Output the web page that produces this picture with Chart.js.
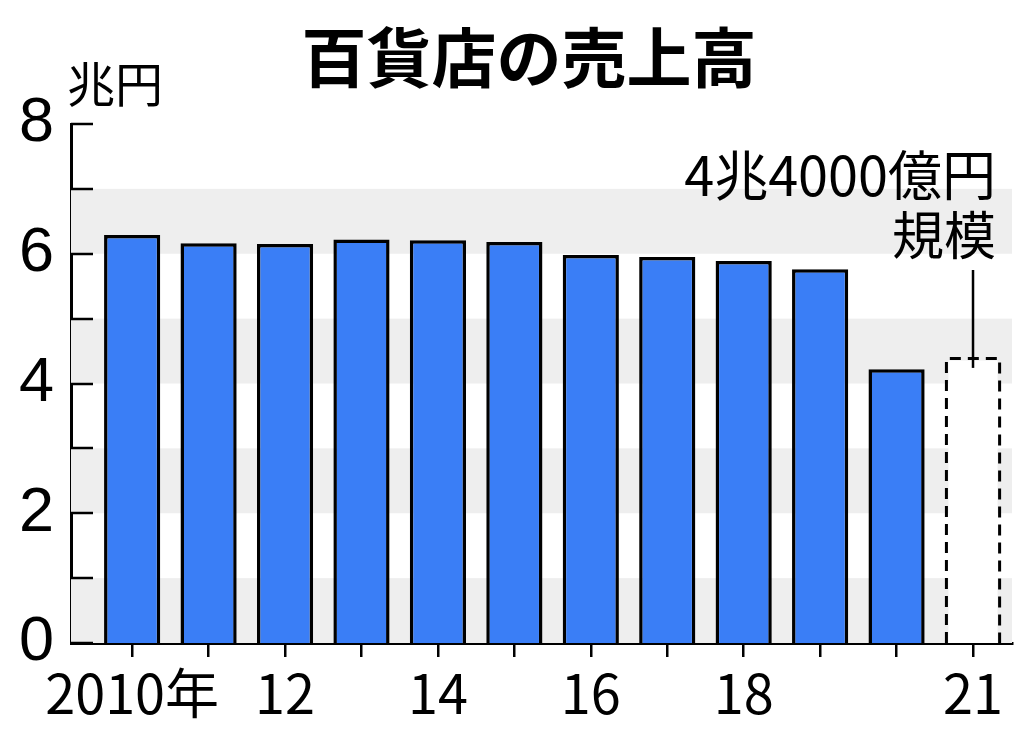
<!DOCTYPE html>
<html lang="ja">
<head>
    <meta charset="UTF-8">
    <title>百貨店の売上高</title>
    <script src="https://cdn.jsdelivr.net/npm/chart.js"></script>
    <style>
        html, body { margin: 0; padding: 0; background: #fff; }
        #wrap { width: 1024px; height: 740px; }
    </style>
</head>
<body>
    <div id="wrap"><canvas id="salesChart"></canvas></div>

    <script>
        // data (兆円)
        const years = [2010, 2011, 2012, 2013, 2014, 2015, 2016, 2017, 2018, 2019, 2020, 2021];
        const sales = [6.29, 6.16, 6.15, 6.22, 6.21, 6.18, 5.98, 5.95, 5.89, 5.76, 4.22, 4.41];
        const yearLabels = ['2010年', '', '12', '', '14', '', '16', '', '18', '', '', '21'];
        const yTicks = [0, 1, 2, 3, 4, 5, 6, 7, 8];
        const yLabels = ['0', '', '2', '', '4', '', '6', '', '8'];
        const bands = [[0, 1], [2, 3], [4, 5], [6, 7]];
        const titleText = '百貨店の売上高';
        const unitText = '兆円';
        const noteLines = ['4兆4000億円', '規模'];

        const CJK = '"Noto Sans CJK JP", sans-serif';
        const BLUE = '#3a7ef6';

        // grey bands, inner y ticks, dashed outlook bar, note and headings
        const decor = {
            id: 'decor',
            beforeDatasetsDraw(chart) {
                const { ctx, chartArea, scales } = chart;
                ctx.save();
                ctx.fillStyle = '#eeeeee';
                bands.forEach(b => {
                    const top = scales.y.getPixelForValue(b[1]);
                    const bot = scales.y.getPixelForValue(b[0]);
                    ctx.fillRect(chartArea.left, top, chartArea.right - chartArea.left, bot - top);
                });
                ctx.restore();
            },
            afterDatasetsDraw(chart) {
                const { ctx, chartArea, scales } = chart;
                ctx.save();
                // tick marks pointing into the plot
                ctx.strokeStyle = '#000';
                ctx.lineWidth = 2.5;
                yTicks.forEach(v => {
                    const py = Math.round(scales.y.getPixelForValue(v));
                    ctx.beginPath();
                    ctx.moveTo(chartArea.left, py);
                    ctx.lineTo(chartArea.left + 22, py);
                    ctx.stroke();
                });

                // 2021 outlook bar drawn dashed
                const bar = chart.getDatasetMeta(0).data[years.length - 1];
                const half = bar.width / 2;
                const l = bar.x - half + 1.5, r = bar.x + half - 1.5;
                ctx.setLineDash([11, 7]);
                ctx.lineWidth = 3;
                ctx.beginPath();
                ctx.moveTo(l, bar.base);
                ctx.lineTo(l, bar.y + 1.5);
                ctx.lineTo(r, bar.y + 1.5);
                ctx.lineTo(r, bar.base);
                ctx.stroke();
                ctx.setLineDash([]);

                // pointer line and note
                ctx.lineWidth = 2.5;
                ctx.beginPath();
                ctx.moveTo(bar.x, 270);
                ctx.lineTo(bar.x, bar.y + 11);
                ctx.stroke();

                ctx.fillStyle = '#000';
                ctx.textAlign = 'right';
                ctx.textBaseline = 'middle';
                ctx.font = '54px ' + CJK;
                ctx.fillText(noteLines[0], bar.x + 23, 175);
                ctx.font = '52px ' + CJK;
                ctx.fillText(noteLines[1], bar.x + 23, 235);

                // unit
                ctx.textAlign = 'left';
                ctx.font = '48px ' + CJK;
                ctx.fillText(unitText, 67, 84);

                // title
                ctx.textAlign = 'center';
                ctx.font = 'bold 65px ' + CJK;
                ctx.fillText(titleText, 529, 57);
                ctx.restore();
            }
        };

        const ctx = document.getElementById('salesChart').getContext('2d');
        const salesChart = new Chart(ctx, {
            type: 'bar',
            data: {
                datasets: [{
                    data: years.map((yr, i) => ({ x: yr, y: sales[i] })),
                    backgroundColor: years.map((yr, i) => i === years.length - 1 ? '#ffffff' : BLUE),
                    borderColor: years.map((yr, i) => i === years.length - 1 ? 'rgba(0,0,0,0)' : '#000'),
                    borderWidth: 3.5,
                    borderSkipped: 'start',
                    categoryPercentage: 1,
                    barPercentage: 0.735
                }]
            },
            options: {
                responsive: true,
                maintainAspectRatio: false,
                animation: false,
                layout: { padding: { left: 4, right: 12, top: 124, bottom: 0 } },
                plugins: {
                    legend: { display: false },
                    tooltip: { enabled: false },
                    title: { display: false }
                },
                scales: {
                    x: {
                        type: 'linear',
                        offset: false,
                        min: 2009.2,
                        max: 2021.51,
                        afterBuildTicks(scale) {
                            scale.ticks = years.map(v => ({ value: v }));
                        },
                        afterFit(scale) {
                            scale.height = 97;
                            scale.paddingLeft = 0;
                            scale.paddingRight = 0;
                        },
                        ticks: {
                            autoSkip: false,
                            maxRotation: 0,
                            padding: 4,
                            color: '#000',
                            font: { family: CJK, size: 54, lineHeight: 1.2 },
                            callback: (v) => yearLabels[years.indexOf(v)]
                        },
                        grid: {
                            display: true,
                            offset: false,
                            drawOnChartArea: false,
                            drawTicks: true,
                            tickLength: 14,
                            color: '#000',
                            lineWidth: 2.5
                        },
                        border: { display: true, color: '#000', width: 3 }
                    },
                    y: {
                        min: 0,
                        max: 8,
                        afterBuildTicks(scale) {
                            scale.ticks = yTicks.map(v => ({ value: v }));
                        },
                        afterFit(scale) {
                            scale.width = 67;
                            scale.paddingTop = 0;
                            scale.paddingBottom = 0;
                        },
                        ticks: {
                            padding: 17,
                            color: '#000',
                            font: { family: '"Liberation Sans", sans-serif', size: 63 },
                            callback: (v) => yLabels[yTicks.indexOf(v)]
                        },
                        grid: { display: false, drawTicks: false },
                        border: { display: true, color: '#000', width: 3 }
                    }
                }
            },
            plugins: [decor]
        });
    </script>
</body>
</html>
